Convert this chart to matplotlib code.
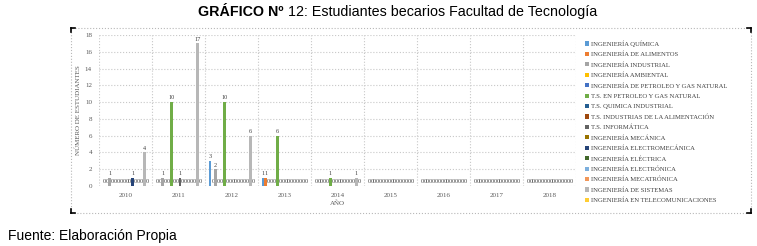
import matplotlib.pyplot as plt
import numpy as np
from matplotlib.lines import Line2D
from matplotlib.patches import Rectangle, Patch

years = ['2010', '2011', '2012', '2013', '2014', '2015', '2016', '2017', '2018']

carreras = ['INGENIERÍA QUÍMICA', 'INGENIERÍA DE ALIMENTOS', 'INGENIERÍA INDUSTRIAL',
            'INGENIERÍA AMBIENTAL', 'INGENIERÍA DE PETROLEO Y GAS NATURAL',
            'T.S. EN PETROLEO Y GAS NATURAL', 'T.S. QUIMICA INDUSTRIAL',
            'T.S. INDUSTRIAS DE LA ALIMENTACIÓN', 'T.S. INFORMÁTICA',
            'INGENIERÍA MECÁNICA', 'INGENIERÍA ELECTROMECÁNICA', 'INGENIERÍA ELÉCTRICA',
            'INGENIERÍA ELECTRÓNICA', 'INGENIERÍA MECATRÓNICA', 'INGENIERÍA DE SISTEMAS',
            'INGENIERÍA EN TELECOMUNICACIONES']

quimica = [0, 0, 3, 1, 0, 0, 0, 0, 0]
alimentos = [0, 0, 0, 1, 0, 0, 0, 0, 0]
industrial = [1, 1, 2, 0, 0, 0, 0, 0, 0]
ambiental = [0, 0, 0, 0, 0, 0, 0, 0, 0]
petroleo = [0, 0, 0, 0, 0, 0, 0, 0, 0]
ts_petroleo = [0, 10, 10, 6, 1, 0, 0, 0, 0]
ts_quimica = [0, 0, 0, 0, 0, 0, 0, 0, 0]
ts_alimentacion = [0, 0, 0, 0, 0, 0, 0, 0, 0]
ts_informatica = [0, 1, 0, 0, 0, 0, 0, 0, 0]
mecanica = [0, 0, 0, 0, 0, 0, 0, 0, 0]
electromecanica = [1, 0, 0, 0, 0, 0, 0, 0, 0]
electrica = [0, 0, 0, 0, 0, 0, 0, 0, 0]
electronica = [0, 0, 0, 0, 0, 0, 0, 0, 0]
mecatronica = [0, 0, 0, 0, 0, 0, 0, 0, 0]
sistemas = [4, 17, 6, 0, 1, 0, 0, 0, 0]
telecom = [0, 0, 0, 0, 0, 0, 0, 0, 0]

series = [quimica, alimentos, industrial, ambiental, petroleo, ts_petroleo, ts_quimica,
          ts_alimentacion, ts_informatica, mecanica, electromecanica, electrica,
          electronica, mecatronica, sistemas, telecom]

colores = ['#5B9BD5', '#ED7D31', '#A5A5A5', '#FFC000', '#4472C4', '#70AD47', '#255E91',
           '#9E480E', '#636363', '#997300', '#264478', '#43682B', '#7CAFDD', '#F1975A',
           '#B7B7B7', '#FFCD33']

serif = 'Liberation Serif'
gris = '#595959'

fig = plt.figure(figsize=(7.57, 2.46), dpi=100)
ax = fig.add_axes([99 / 757, 1 - 186 / 246, 477 / 757, 151 / 246])

x = np.arange(len(years))
w = 0.054
n = len(series)
for i, vals in enumerate(series):
    bars = ax.bar(x + (i - (n - 1) / 2) * w, vals, w, color=colores[i], zorder=3)
    ax.bar_label(bars, fontsize=4.5, padding=1.2, family=serif, color='#404040')

ax.set_xlim(-0.5, len(years) - 0.5)
ax.set_ylim(0, 18)
ax.set_yticks(range(0, 19, 2))
ax.set_xticks(x)
ax.set_xticklabels(years)
ax.set_xticks(np.arange(-0.5, len(years), 1), minor=True)
ax.tick_params(axis='both', length=0, labelsize=5, labelcolor=gris, pad=5)
ax.tick_params(which='minor', length=0)
for lab in ax.get_xticklabels() + ax.get_yticklabels():
    lab.set_family(serif)
ax.grid(axis='y', which='major', linestyle=':', color='#c8c8c8', linewidth=0.8, zorder=0)
ax.grid(axis='x', which='minor', linestyle=':', color='#c8c8c8', linewidth=0.8, zorder=0)
for s in ax.spines.values():
    s.set_visible(False)
ax.set_ylabel('NÚMERO DE ESTUDIANTES', fontsize=5, family=serif, color=gris, labelpad=3)
ax.set_xlabel('AÑO', fontsize=5, family=serif, color=gris, labelpad=2)

handles = [Patch(facecolor=c, edgecolor='none') for c in colores]
fig.legend(handles, carreras, loc='upper left', bbox_to_anchor=(582 / 757, 1 - 37 / 246),
           frameon=False, prop={'family': serif, 'size': 4.8}, labelspacing=0.74,
           handlelength=0.6, handleheight=0.6, handletextpad=0.3, borderpad=0,
           labelcolor='#404040')

# marco del área del gráfico
fig.patches.append(Rectangle((71 / 757, 1 - 213 / 246), 680 / 757, 185 / 246,
                             transform=fig.transFigure, fill=False, linestyle=':',
                             edgecolor='#b8b8b8', linewidth=0.8))
for (cx, cy, dx, dy) in [(71, 28, 1, 1), (71, 213, 1, -1), (751, 28, -1, 1), (751, 213, -1, -1)]:
    fig.lines.append(Line2D([cx / 757, (cx + 4 * dx) / 757], [1 - cy / 246, 1 - cy / 246],
                            transform=fig.transFigure, color='black', linewidth=1.2))
    fig.lines.append(Line2D([cx / 757, cx / 757], [1 - cy / 246, 1 - (cy + 4 * dy) / 246],
                            transform=fig.transFigure, color='black', linewidth=1.2))

# título: parte en negrita y resto normal
t1 = fig.text(198 / 757, 1 - 12 / 246, 'GRÁFICO Nº', fontsize=10.25, family='Liberation Sans',
              fontweight='bold', ha='left', va='center', color='black')
fig.canvas.draw()
bb = t1.get_window_extent()
fig.text(bb.x1 / 757, 1 - 12 / 246, ' 12: Estudiantes becarios Facultad de Tecnología',
         fontsize=10.25, family='Liberation Sans', ha='left', va='center', color='black')
fig.text(8 / 757, 1 - 236 / 246, 'Fuente: Elaboración Propia', fontsize=10,
         family='Liberation Sans', ha='left', va='center', color='black')

fig.savefig('out.png', dpi=100)
